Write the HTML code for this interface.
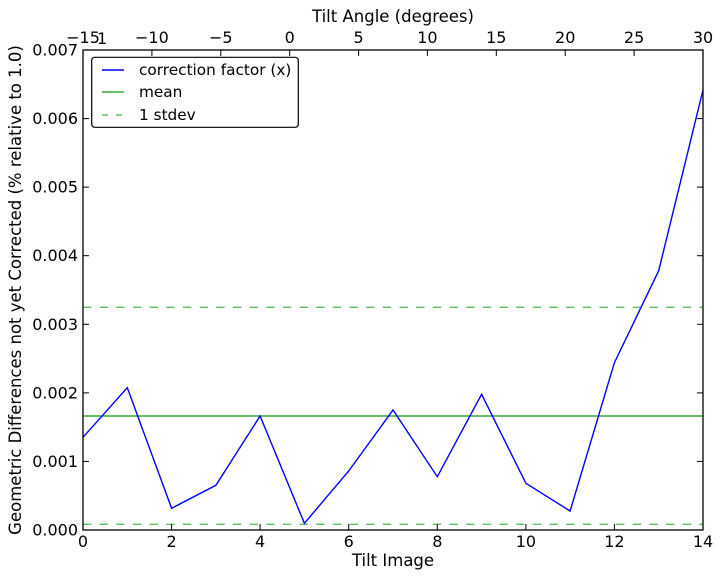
<!DOCTYPE html>
<html><head><meta charset="utf-8"><style>
html,body{margin:0;padding:0;background:#fff;}
svg{display:block;font-family:"DejaVu Sans","Liberation Sans",sans-serif;}
</style></head><body>
<svg width="722" height="579" viewBox="0 0 722 579" xmlns="http://www.w3.org/2000/svg">
<rect width="722" height="579" fill="#fff"/>
<!-- horizontal lines -->
<line x1="83" y1="416" x2="703" y2="416" stroke="#3aa63a" stroke-width="1.4"/>
<line x1="83" y1="307.3" x2="703" y2="307.3" stroke="#5fbf5f" stroke-width="1.4" stroke-dasharray="8.33,8.33"/>
<line x1="83" y1="524.3" x2="703" y2="524.3" stroke="#5fbf5f" stroke-width="1.4" stroke-dasharray="8.33,8.33"/>
<!-- data -->
<polyline fill="none" stroke="#0000ff" stroke-width="1.4" stroke-linejoin="miter" points="83,437.3 127.3,387.7 171.6,508.3 215.9,485.3 260.1,416 304.4,523.3 348.7,471 393,410 437.3,476.7 481.6,394.3 525.9,483.3 570.1,511 614.4,362.7 658.7,270.7 703,90"/>
<!-- axes frame -->
<rect x="83" y="50" width="620" height="480" fill="none" stroke="#000" stroke-width="1.3"/>
<g stroke="#000" stroke-width="1">
<line x1="171.6" y1="530" x2="171.6" y2="524"/>
<line x1="260.1" y1="530" x2="260.1" y2="524"/>
<line x1="348.7" y1="530" x2="348.7" y2="524"/>
<line x1="437.3" y1="530" x2="437.3" y2="524"/>
<line x1="525.9" y1="530" x2="525.9" y2="524"/>
<line x1="614.4" y1="530" x2="614.4" y2="524"/>
<line x1="151.9" y1="50" x2="151.9" y2="56"/>
<line x1="220.8" y1="50" x2="220.8" y2="56"/>
<line x1="289.7" y1="50" x2="289.7" y2="56"/>
<line x1="358.6" y1="50" x2="358.6" y2="56"/>
<line x1="427.4" y1="50" x2="427.4" y2="56"/>
<line x1="496.3" y1="50" x2="496.3" y2="56"/>
<line x1="565.2" y1="50" x2="565.2" y2="56"/>
<line x1="634.1" y1="50" x2="634.1" y2="56"/>
<line x1="83" y1="461.4" x2="89" y2="461.4"/><line x1="703" y1="461.4" x2="697" y2="461.4"/>
<line x1="83" y1="392.9" x2="89" y2="392.9"/><line x1="703" y1="392.9" x2="697" y2="392.9"/>
<line x1="83" y1="324.3" x2="89" y2="324.3"/><line x1="703" y1="324.3" x2="697" y2="324.3"/>
<line x1="83" y1="255.7" x2="89" y2="255.7"/><line x1="703" y1="255.7" x2="697" y2="255.7"/>
<line x1="83" y1="187.1" x2="89" y2="187.1"/><line x1="703" y1="187.1" x2="697" y2="187.1"/>
<line x1="83" y1="118.6" x2="89" y2="118.6"/><line x1="703" y1="118.6" x2="697" y2="118.6"/>
</g>
<g font-size="16" fill="#000" text-anchor="end">
<text x="78" y="535.5">0.000</text>
<text x="78" y="466.9">0.001</text>
<text x="78" y="398.4">0.002</text>
<text x="78" y="329.8">0.003</text>
<text x="78" y="261.2">0.004</text>
<text x="78" y="192.6">0.005</text>
<text x="78" y="124.1">0.006</text>
<text x="78" y="55.5">0.007</text>
</g>
<g font-size="16" fill="#000" text-anchor="middle">
<text x="83" y="547">0</text>
<text x="171.6" y="547">2</text>
<text x="260.1" y="547">4</text>
<text x="348.7" y="547">6</text>
<text x="437.3" y="547">8</text>
<text x="525.9" y="547">10</text>
<text x="614.4" y="547">12</text>
<text x="703" y="547">14</text>
</g>
<g font-size="16" fill="#000" text-anchor="middle">
<text x="83" y="43">−15</text>
<text x="151.9" y="43">−10</text>
<text x="220.8" y="43">−5</text>
<text x="289.7" y="43">0</text>
<text x="358.6" y="43">5</text>
<text x="427.4" y="43">10</text>
<text x="496.3" y="43">15</text>
<text x="565.2" y="43">20</text>
<text x="634.1" y="43">25</text>
<text x="703" y="43">30</text>
</g>
<text x="97" y="44" font-size="16" fill="#000">1</text>
<text x="393" y="22" font-size="16.5" text-anchor="middle" fill="#000">Tilt Angle (degrees)</text>
<text x="393" y="566" font-size="16.5" text-anchor="middle" fill="#000">Tilt Image</text>
<text transform="translate(21,290) rotate(-90)" font-size="16.5" text-anchor="middle" fill="#000">Geometric Differences not yet Corrected (% relative to 1.0)</text>
<rect x="91.7" y="57.3" width="206.6" height="70" rx="3" ry="3" fill="#fff" stroke="#000" stroke-width="1.2"/>
<line x1="102" y1="70" x2="124" y2="70" stroke="#0000ff" stroke-width="1.4"/>
<line x1="102" y1="92" x2="124" y2="92" stroke="#3aa63a" stroke-width="1.4"/>
<line x1="102" y1="115" x2="124" y2="115" stroke="#5fbf5f" stroke-width="1.4" stroke-dasharray="6,8"/>
<g font-size="15.3" fill="#000">
<text x="139" y="75">correction factor (x)</text>
<text x="139" y="97">mean</text>
<text x="139" y="120">1 stdev</text>
</g>
</svg>
</body></html>
